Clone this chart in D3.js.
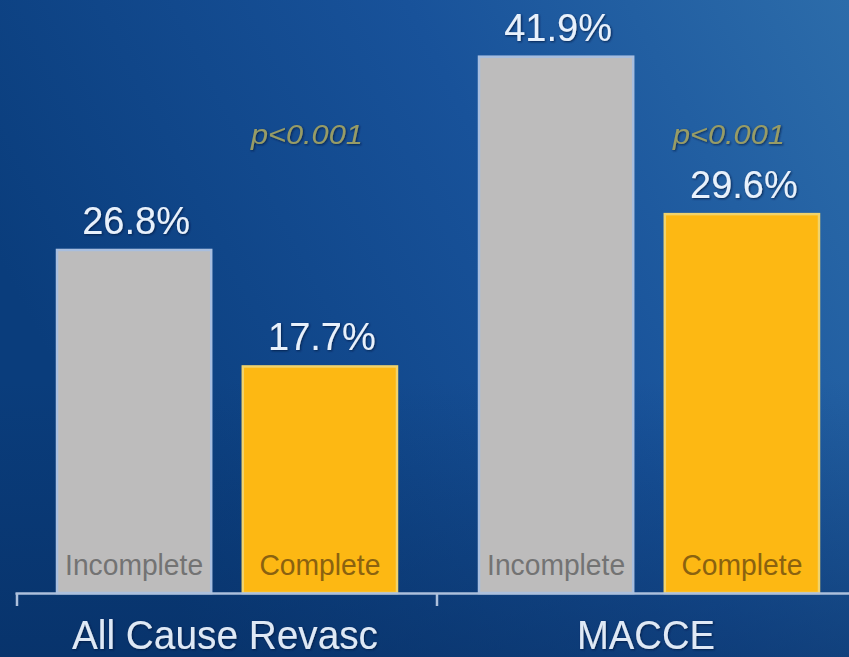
<!DOCTYPE html>
<html><head><meta charset="utf-8">
<script src="https://cdn.jsdelivr.net/npm/d3@7"></script>
<style>html,body{margin:0;padding:0;overflow:hidden;background:#0d4282}</style>
</head><body>
<svg id="c" width="849" height="657"></svg>
<script>
const categories = ["All Cause Revasc", "MACCE"];
const series = ["Incomplete", "Complete"];
const incompleteValues = [26.8, 41.9];
const completeValues = [17.7, 29.6];
const valueLabels = [["26.8%", "17.7%"], ["41.9%", "29.6%"]];
const pLabels = ["p<0.001", "p<0.001"];

const W = 849, H = 657;
const FONT = "'Liberation Sans', Arimo, Arial, sans-serif";
const svg = d3.select("#c");
const defs = svg.append("defs");
const g1 = defs.append("linearGradient").attr("id","bg").attr("x1","0").attr("y1","0.4").attr("x2","1").attr("y2","0");
g1.append("stop").attr("offset","0").attr("stop-color","#0a3d7c");
g1.append("stop").attr("offset","0.55").attr("stop-color","#18529a");
g1.append("stop").attr("offset","1").attr("stop-color","#2c6caa");
svg.append("rect").attr("width",W).attr("height",H).attr("fill","url(#bg)");
const g2 = defs.append("linearGradient").attr("id","bot").attr("x1","0").attr("y1","0").attr("x2","0").attr("y2","1");
g2.append("stop").attr("offset","0").attr("stop-color","#062a5c").attr("stop-opacity",0);
g2.append("stop").attr("offset","1").attr("stop-color","#062a5c").attr("stop-opacity",0.5);
svg.append("rect").attr("y",380).attr("width",W).attr("height",H-380).attr("fill","url(#bot)");
const sh = defs.append("filter").attr("id","sh").attr("x","-10%").attr("y","-20%").attr("width","120%").attr("height","140%");
sh.append("feDropShadow").attr("dx",1).attr("dy",1).attr("stdDeviation",1.2).attr("flood-color","#021a40").attr("flood-opacity",0.8);

const baseY = 593;
const x0 = d3.scaleBand().domain(categories).range([15, 859]);
const x1 = d3.scaleBand().domain(series).range([42, 382]).paddingInner(0.17);
const y = d3.scaleLinear().domain([0, 45]).range([baseY, baseY - 45*12.8]);

const data = categories.map((c,i)=>({cat:c, vals:[
  {s:"Incomplete", v:incompleteValues[i], lab:valueLabels[i][0]},
  {s:"Complete", v:completeValues[i], lab:valueLabels[i][1]}]}));

const fill = {Incomplete:"#bdbcbc", Complete:"#fdb813"};
const stroke = {Incomplete:"#a8bedf", Complete:"#f2d36a"};
const inner = {Incomplete:"#737373", Complete:"#8a6210"};
const innerLen = {Incomplete:138, Complete:121};

const grp = svg.selectAll("g.grp").data(data).join("g").attr("class","grp")
  .attr("transform", d=>`translate(${x0(d.cat)},0)`);

grp.selectAll("rect.bar").data(d=>d.vals).join("rect").attr("class","bar")
  .attr("x", d=>x1(d.s)).attr("width", x1.bandwidth())
  .attr("y", d=>y(d.v)).attr("height", d=>baseY - y(d.v))
  .attr("fill", d=>fill[d.s]).attr("stroke", d=>stroke[d.s]).attr("stroke-width",2.5);

grp.selectAll("text.val").data(d=>d.vals).join("text").attr("class","val")
  .attr("x", d=>x1(d.s)+x1.bandwidth()/2 + 2).attr("y", d=>y(d.v)-16)
  .attr("text-anchor","middle").attr("font-family",FONT)
  .attr("font-size",38).attr("fill","#e8f1fc").attr("filter","url(#sh)").text(d=>d.lab);

grp.selectAll("text.inl").data(d=>d.vals).join("text").attr("class","inl")
  .attr("x", d=>x1(d.s)+x1.bandwidth()/2 - innerLen[d.s]/2).attr("y", 575)
  .attr("font-family",FONT)
  .attr("font-size",29).attr("textLength", d=>innerLen[d.s]).attr("lengthAdjust","spacingAndGlyphs")
  .attr("fill", d=>inner[d.s]).text(d=>d.s);

grp.append("text").attr("class","pval")
  .attr("x", x1("Complete")+x1.bandwidth()/2 - 13).attr("y", 144)
  .attr("text-anchor","middle").attr("font-family",FONT)
  .attr("font-style","italic").attr("font-size",28).attr("fill","#979c66")
  .attr("textLength",112).attr("lengthAdjust","spacingAndGlyphs").attr("filter","url(#sh)")
  .text((d,i)=>pLabels[i]);

// axis
const axis = d3.axisBottom(x0).tickSize(0).tickFormat("");
const ag = svg.append("g").attr("transform",`translate(0,${baseY})`).call(axis);
ag.select(".domain").attr("stroke","#adc0dc").attr("stroke-width",2.5);
ag.selectAll(".tick").remove();
const tickXs = [x0(categories[0])+2, x0(categories[1])];
svg.selectAll("line.tk").data(tickXs).join("line").attr("class","tk")
  .attr("x1",d=>d).attr("x2",d=>d).attr("y1",baseY).attr("y2",baseY+13)
  .attr("stroke","#adc0dc").attr("stroke-width",2.5);

const catLen = [306, 138];
const catCx = [225, 646];
svg.selectAll("text.cat").data(categories).join("text").attr("class","cat")
  .attr("x", (d,i)=> catCx[i] - catLen[i]/2).attr("y", 649)
  .attr("font-family",FONT).attr("textLength",(d,i)=>catLen[i]).attr("lengthAdjust","spacingAndGlyphs")
  .attr("font-size",41).attr("fill","#dfe9f6").attr("filter","url(#sh)").text(d=>d);
</script>
</body></html>
